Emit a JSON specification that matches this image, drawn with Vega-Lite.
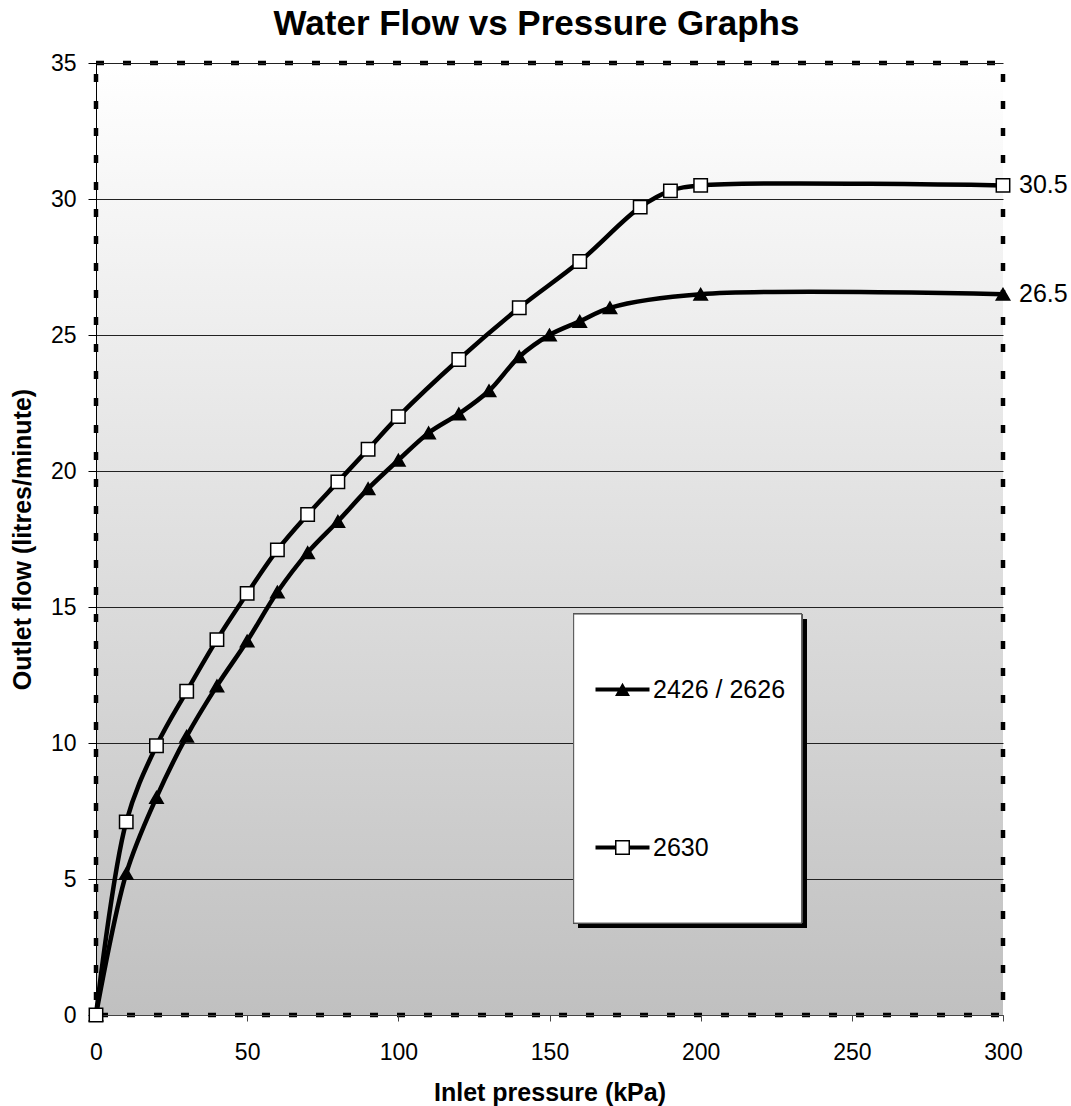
{
  "$schema": "https://vega.github.io/schema/vega-lite/v6.json",
  "width": 907,
  "height": 952,
  "autosize": {"type": "none"},
  "padding": {"left": 96, "top": 63, "right": 68, "bottom": 91},
  "background": "white",
  "title": {
    "text": "Water Flow vs Pressure Graphs",
    "fontSize": 35,
    "fontWeight": "bold",
    "font": "Liberation Sans",
    "color": "black",
    "anchor": "middle",
    "baseline": "alphabetic",
    "offset": -18,
    "dx": -13
  },
  "view": {
    "fill": {
      "gradient": "linear",
      "x1": 0, "y1": 0, "x2": 0, "y2": 1,
      "stops": [
        {"offset": 0, "color": "#ffffff"},
        {"offset": 1, "color": "#c0c0c0"}
      ]
    },
    "stroke": "black",
    "strokeWidth": 4.5,
    "strokeDash": [8, 19]
  },
  "config": {
    "font": "Liberation Sans",
    "axis": {
      "labelFont": "Liberation Sans",
      "titleFont": "Liberation Sans",
      "labelFontSize": 23,
      "labelColor": "black",
      "titleFontSize": 25,
      "titleFontWeight": "bold",
      "titleColor": "black",
      "domainWidth": 1,
      "tickWidth": 1,
      "gridWidth": 1
    }
  },
  "resolve": {"scale": {"shape": "independent"}, "legend": {"shape": "independent"}},
  "data": {
    "values": [
      {"series": "2426 / 2626", "x": 0, "y": 0},
      {"series": "2426 / 2626", "x": 10, "y": 5.2},
      {"series": "2426 / 2626", "x": 20, "y": 8.0},
      {"series": "2426 / 2626", "x": 30, "y": 10.25},
      {"series": "2426 / 2626", "x": 40, "y": 12.1},
      {"series": "2426 / 2626", "x": 50, "y": 13.75},
      {"series": "2426 / 2626", "x": 60, "y": 15.55},
      {"series": "2426 / 2626", "x": 70, "y": 17.0},
      {"series": "2426 / 2626", "x": 80, "y": 18.15},
      {"series": "2426 / 2626", "x": 90, "y": 19.35},
      {"series": "2426 / 2626", "x": 100, "y": 20.4},
      {"series": "2426 / 2626", "x": 110, "y": 21.4},
      {"series": "2426 / 2626", "x": 120, "y": 22.1},
      {"series": "2426 / 2626", "x": 130, "y": 22.95},
      {"series": "2426 / 2626", "x": 140, "y": 24.2},
      {"series": "2426 / 2626", "x": 150, "y": 25.0},
      {"series": "2426 / 2626", "x": 160, "y": 25.5},
      {"series": "2426 / 2626", "x": 170, "y": 26.0},
      {"series": "2426 / 2626", "x": 200, "y": 26.5},
      {"series": "2426 / 2626", "x": 300, "y": 26.5},
      {"series": "2630", "x": 0, "y": 0},
      {"series": "2630", "x": 10, "y": 7.1},
      {"series": "2630", "x": 20, "y": 9.9},
      {"series": "2630", "x": 30, "y": 11.9},
      {"series": "2630", "x": 40, "y": 13.8},
      {"series": "2630", "x": 50, "y": 15.5},
      {"series": "2630", "x": 60, "y": 17.1},
      {"series": "2630", "x": 70, "y": 18.4},
      {"series": "2630", "x": 80, "y": 19.6},
      {"series": "2630", "x": 90, "y": 20.8},
      {"series": "2630", "x": 100, "y": 22.0},
      {"series": "2630", "x": 120, "y": 24.1},
      {"series": "2630", "x": 140, "y": 26.0},
      {"series": "2630", "x": 160, "y": 27.7},
      {"series": "2630", "x": 180, "y": 29.7},
      {"series": "2630", "x": 190, "y": 30.3},
      {"series": "2630", "x": 200, "y": 30.5},
      {"series": "2630", "x": 300, "y": 30.5}
    ]
  },
  "encoding": {
    "x": {
      "field": "x",
      "type": "quantitative",
      "scale": {"domain": [0, 300], "nice": false, "zero": false},
      "axis": {
        "values": [0, 50, 100, 150, 200, 250, 300],
        "title": "Inlet pressure (kPa)",
        "grid": false,
        "tickSize": 6,
        "labelPadding": 20,
        "titlePadding": 16,
        "labelFlush": false,
        "domainColor": "#444444",
        "tickColor": "#444444"
      }
    },
    "y": {
      "field": "y",
      "type": "quantitative",
      "scale": {"domain": [0, 35], "nice": false},
      "axis": {
        "values": [0, 5, 10, 15, 20, 25, 30, 35],
        "title": "Outlet flow (litres/minute)",
        "grid": true,
        "gridColor": "#222222",
        "gridOpacity": 1,
        "tickSize": 8,
        "labelPadding": 12,
        "titlePadding": 15,
        "domainColor": "black",
        "tickColor": "black"
      }
    }
  },
  "layer": [
    {
      "mark": {"type": "rect", "color": "black", "xOffset": 5, "x2Offset": 5, "yOffset": 5, "y2Offset": 5, "opacity": 1},
      "encoding": {
        "x": {"datum": 158},
        "x2": {"datum": 233.4},
        "y": {"datum": 14.74},
        "y2": {"datum": 3.38}
      }
    },
    {
      "mark": {"type": "rect", "fill": "white", "stroke": "#555555", "strokeWidth": 1, "opacity": 1},
      "encoding": {
        "x": {"datum": 158},
        "x2": {"datum": 233.4},
        "y": {"datum": 14.74},
        "y2": {"datum": 3.38}
      }
    },
    {
      "mark": {"type": "line", "interpolate": "catmull-rom", "strokeWidth": 4.5, "color": "black"},
      "encoding": {
        "detail": {"field": "series"}
      }
    },
    {
      "mark": {"type": "point", "filled": true, "opacity": 1, "stroke": "black", "strokeWidth": 1.5, "size": 180},
      "encoding": {
        "shape": {
          "field": "series",
          "type": "nominal",
          "scale": {"domain": ["2426 / 2626", "2630"], "range": ["triangle-up", "square"]},
          "legend": null
        },
        "fill": {
          "field": "series",
          "type": "nominal",
          "scale": {"domain": ["2426 / 2626", "2630"], "range": ["black", "white"]},
          "legend": null
        }
      }
    },
    {
      "mark": {"type": "point", "filled": true, "color": "black", "opacity": 0, "size": 10},
      "encoding": {
        "shape": {
          "field": "series",
          "type": "nominal",
          "scale": {
            "domain": ["2426 / 2626", "2630"],
            "range": [
              "M-3.6,-0.27H3.6V0.27H-3.6Z M0,-0.9L1,0.85L-1,0.85Z",
              "M-3.6,-0.27H-1V0.27H-3.6Z M1,-0.27H3.6V0.27H1Z M-1,-1H1V1H-1Z M-0.8,-0.8V0.8H0.8V-0.8Z"
            ]
          },
          "legend": {
            "title": null,
            "orient": "none",
            "legendX": 514,
            "legendY": 614,
            "padding": 0,
            "rowPadding": 132,
            "symbolSize": 225,
            "symbolStrokeWidth": 0,
            "symbolFillColor": "black",
            "symbolStrokeColor": "transparent",
            "symbolOpacity": 1,
            "labelFontSize": 25,
            "labelFont": "Liberation Sans",
            "labelColor": "black",
            "labelOffset": 18,
            "labelBaseline": "middle"
          }
        }
      }
    },
    {
      "transform": [{"filter": "datum.x == 300"}],
      "mark": {"type": "text", "align": "left", "baseline": "middle", "dx": 16, "fontSize": 25, "color": "black", "font": "Liberation Sans"},
      "encoding": {
        "text": {"field": "y", "type": "quantitative", "format": ".1f"}
      }
    }
  ]
}
